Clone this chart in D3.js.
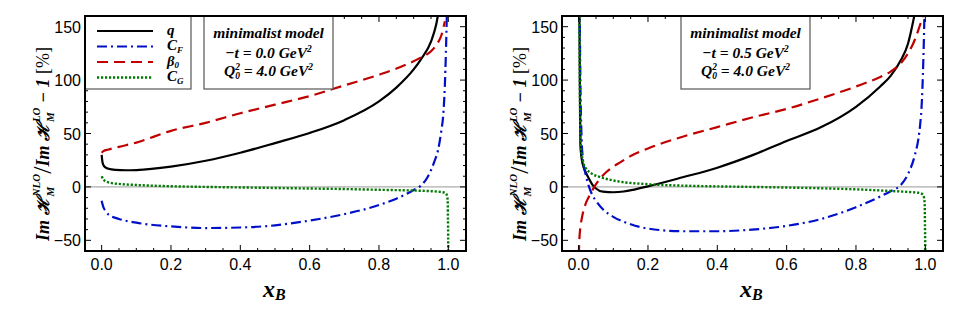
<!DOCTYPE html>
<meta charset="utf-8">
<script src="https://d3js.org/d3.v7.min.js"></script>
<style>
body { margin: 0; background: white; }
text { white-space: pre; }
</style>
<svg id="chart" width="954" height="322"></svg>
<script>

// ---- data: [x_B, value in %] ----
var leftQ = [[0,30],[0.002,24],[0.005,20.5],[0.01,18.5],[0.02,17],[0.04,16],[0.07,15.6],[0.1,15.8],[0.2,19],
  [0.3,24.5],[0.4,32],[0.5,41],[0.6,50.5],[0.7,62.5],[0.8,80],[0.85,93],[0.9,110],[0.92,119],[0.95,136],
  [0.965,152],[0.975,170]];
var leftB0 = [[0,32],[0.005,33.5],[0.02,35],[0.05,37.5],[0.1,41.5],[0.2,52.5],[0.3,60],[0.4,69],[0.5,77],[0.6,85],
  [0.7,95],[0.8,105],[0.86,112],[0.92,121],[0.95,127],[0.97,135],[0.98,142],[0.99,155]];
var leftCF = [[0,-13],[0.005,-19],[0.01,-22],[0.02,-26],[0.05,-30],[0.1,-33.5],[0.2,-37],[0.3,-38.5],[0.4,-38],
  [0.5,-36],[0.6,-31.5],[0.7,-25.5],[0.8,-17],[0.85,-11],[0.9,-3],[0.92,1],[0.94,9],[0.96,24],[0.97,34],
  [0.98,53],[0.985,66],[0.99,95],[0.993,125],[0.996,165]];
var leftCG = [[0,10],[0.005,7],[0.01,5.5],[0.03,3.5],[0.05,2.8],[0.1,1.8],[0.2,0.6],[0.3,0],[0.4,-0.5],[0.5,-1],
  [0.6,-1.5],[0.7,-2],[0.8,-2.7],[0.9,-3.4],[0.95,-4],[0.98,-4.8],[0.99,-5.5],[0.995,-7],[0.998,-12],[0.999,-30],[1.0,-65]];

var rightQ = [[0.002,175],[0.003,120],[0.005,40],[0.008,28],[0.012,21],[0.02,14],[0.027,9.4],[0.04,2],[0.05,-1.5],
  [0.07,-4.5],[0.1,-5],[0.13,-4.3],[0.16,-2.5],[0.2,0.5],[0.3,9],[0.4,18],[0.5,29.5],[0.6,43],[0.7,56],[0.8,75],
  [0.87,94],[0.9,104],[0.93,119],[0.95,134],[0.965,155],[0.975,172]];
var rightB0 = [[0.0005,-65],[0.002,-50],[0.005,-38],[0.01,-28],[0.02,-16],[0.03,-9],[0.045,0],[0.06,7],[0.08,14],
  [0.1,19],[0.12,23],[0.15,29],[0.2,36],[0.3,47],[0.4,56],[0.5,65],[0.6,73],[0.7,83],[0.8,94],[0.87,103],[0.9,108],
  [0.93,116],[0.95,125],[0.97,138],[0.98,147],[0.995,162]];
var rightCF = [[0.003,170],[0.005,100],[0.008,50],[0.012,27],[0.02,12],[0.03,0],[0.04,-8],[0.05,-13],[0.07,-21],
  [0.1,-28],[0.15,-35],[0.2,-39],[0.3,-41.5],[0.4,-41.5],[0.5,-40],[0.6,-36.5],[0.7,-30],[0.8,-19],[0.87,-9],
  [0.9,-4],[0.93,2],[0.95,12],[0.97,30],[0.98,45],[0.985,58],[0.99,80],[0.993,105],[0.996,140],[0.998,170]];
var rightCG = [[0.002,175],[0.003,120],[0.004,70],[0.006,40],[0.01,28],[0.015,21],[0.022,17],[0.04,12],[0.06,9.4],
  [0.1,6],[0.2,2.5],[0.3,1.2],[0.4,0.5],[0.5,0],[0.6,-0.6],[0.7,-1.3],[0.8,-2.3],[0.9,-3.8],[0.95,-4.7],
  [0.98,-5.5],[0.99,-6.5],[0.995,-8.5],[0.998,-15],[0.999,-35],[1.0,-65]];

var xTicks = [0, 0.2, 0.4, 0.6, 0.8, 1.0];
var yTicks = [-50, 0, 50, 100, 150];
var tValues = ["0.0", "0.5"];

var serif = "'Liberation Serif', 'DejaVu Serif', serif";
var sans = "'Liberation Sans', Arial, sans-serif";

var svg = d3.select("#chart");

// lay pieces of text next to each other (for sub/superscripts)
function richText(g, pieces) {
  var cx = 0;
  pieces.forEach(function(p) {
    var parts = p.stack || [p];
    var w = 0;
    parts.forEach(function(s) {
      var t = g.append("text").attr("x", cx + (s.dx || 0)).attr("y", s.dy || 0)
        .style("font-family", s.family || serif).style("font-size", s.size + "px")
        .style("font-weight", s.weight || "bold").style("font-style", s.style || "italic")
        .text(s.t);
      w = Math.max(w, t.node().getComputedTextLength() + (s.dx || 0));
    });
    cx += w + (p.gap || 0);
  });
  return cx;
}

function centered(parent, x, y, pieces) {
  var g = parent.append("g");
  var w = richText(g, pieces);
  g.attr("transform", "translate(" + (x - w / 2) + "," + y + ")");
  return g;
}

function drawPanel(ox, series, tval, showLegend) {
  var left = ox, right = ox + 381, top = 16, bottom = 251;
  var x = d3.scaleLinear().domain([-0.048, 1.051]).range([left, right]);
  var y = d3.scaleLinear().domain([-60, 160]).range([bottom, top]);

  var clipId = "clip" + ox;
  svg.append("clipPath").attr("id", clipId).append("rect")
    .attr("x", left).attr("y", top).attr("width", right - left).attr("height", bottom - top);

  // zero line
  svg.append("line").attr("x1", left).attr("x2", right).attr("y1", y(0)).attr("y2", y(0))
    .attr("stroke", "#999").attr("stroke-width", 1);

  var line = d3.line().x(function(d) { return x(d[0]); }).y(function(d) { return y(d[1]); })
    .curve(d3.curveMonotoneX);

  var cg = svg.append("g").attr("clip-path", "url(#" + clipId + ")");
  series.forEach(function(s) {
    cg.append("path").datum(s.data).attr("d", line).attr("fill", "none")
      .attr("stroke", s.color).attr("stroke-width", s.width).attr("stroke-dasharray", s.dash);
  });

  // frame ticks on all sides
  var tk = svg.append("g").attr("stroke", "black").attr("stroke-width", 1);
  d3.range(0, 1.0001, 0.05).forEach(function(v, i) {
    var len = (i % 4 === 0) ? 6 : 3;
    tk.append("line").attr("x1", x(v)).attr("x2", x(v)).attr("y1", bottom).attr("y2", bottom - len);
    tk.append("line").attr("x1", x(v)).attr("x2", x(v)).attr("y1", top).attr("y2", top + len);
  });
  d3.range(-60, 161, 10).forEach(function(v) {
    var len = (v % 50 === 0) ? 6 : 3;
    tk.append("line").attr("y1", y(v)).attr("y2", y(v)).attr("x1", left).attr("x2", left + len);
    tk.append("line").attr("y1", y(v)).attr("y2", y(v)).attr("x1", right).attr("x2", right - len);
  });

  // legend
  if (showLegend) {
    var lg = svg.append("g");
    lg.append("rect").attr("x", left).attr("y", top).attr("width", 106).attr("height", 73)
      .attr("fill", "white").attr("stroke", "#555").attr("stroke-width", 1.2);
    var labels = [
      [{t: "q", size: 15}],
      [{t: "C", size: 15}, {t: "F", size: 9, dy: 2.5}],
      [{t: "β", size: 14.5}, {t: "0", size: 9, dy: 2}],
      [{t: "C", size: 15}, {t: "G", size: 9, dy: 2.5}]
    ];
    series.forEach(function(s, i) {
      var ly = 31 + i * 15.5;
      lg.append("line").attr("x1", left + 12).attr("x2", left + 68).attr("y1", ly).attr("y2", ly)
        .attr("stroke", s.color).attr("stroke-width", s.width).attr("stroke-dasharray", s.dash);
      var g = lg.append("g").attr("transform", "translate(" + (left + 82) + "," + (ly + 3.5) + ")");
      richText(g, labels[i]);
    });
  }

  // text box
  var bx = ox + 119, bw = 129;
  svg.append("rect").attr("x", bx).attr("y", top).attr("width", bw).attr("height", 73)
    .attr("fill", "white").attr("stroke", "#555").attr("stroke-width", 1.2);
  var mid = bx + bw / 2;
  centered(svg, mid, 38, [{t: "minimalist model", size: 15.5}]);
  centered(svg, mid, 58, [{t: "\u2212t = " + tval + " GeV", size: 15.5}, {t: "2", size: 9.5, dy: -6}]);
  centered(svg, mid, 76, [{t: "Q", size: 15.5},
    {stack: [{t: "2", size: 9.5, dy: -6}, {t: "0", size: 9.5, dy: 3}]},
    {t: " = 4.0 GeV", size: 15.5}, {t: "2", size: 9.5, dy: -6}]);

  // frame
  svg.append("rect").attr("x", left).attr("y", top).attr("width", right - left).attr("height", bottom - top)
    .attr("fill", "none").attr("stroke", "black").attr("stroke-width", 2);

  // tick labels
  xTicks.forEach(function(v) {
    svg.append("text").attr("x", x(v)).attr("y", 270).attr("text-anchor", "middle")
      .style("font-family", sans).style("font-size", "16px").text(v.toFixed(1));
  });
  yTicks.forEach(function(v) {
    svg.append("text").attr("x", left - 4).attr("y", y(v) + 6).attr("text-anchor", "end")
      .style("font-family", sans).style("font-size", "16px").text(v < 0 ? "\u2212" + Math.abs(v) : v);
  });

  // x label
  var xl = svg.append("g").attr("transform", "translate(" + (x(0.5) - 12) + ",297)");
  richText(xl, [{t: "x", size: 24}, {t: "B", size: 16, dy: 3}]);

  // y label
  var yg = svg.append("g").attr("transform", "translate(" + (ox - 36) + ",144) rotate(-90)");
  var inner = yg.append("g");
  var w = richText(inner, [
    {t: "Im ", size: 18},
    {t: "\u210B", size: 17, gap: 1},
    {stack: [{t: "NLO", size: 11, dy: -9}, {t: "M", size: 11, dy: 5}]},
    {t: "/", size: 26, weight: "normal", style: "normal", dy: 2},
    {t: "Im ", size: 18},
    {t: "\u210B", size: 17, gap: 1},
    {stack: [{t: "LO", size: 11, dy: -9}, {t: "M", size: 11, dy: 5}]},
    {t: " \u2212 1 ", size: 18},
    {t: "[%]", size: 18, weight: "normal", style: "normal"}
  ]);
  inner.attr("transform", "translate(" + (-w / 2) + ",0)");
}

function makeSeries(q, cf, b0, cg) {
  return [
    {data: q, color: "black", width: 2.2, dash: null},
    {data: cf, color: "#0010c8", width: 2.2, dash: "10,4,2,4"},
    {data: b0, color: "#c00000", width: 2.2, dash: "11,6"},
    {data: cg, color: "#007a00", width: 2.4, dash: "2.2,1.8"}
  ];
}

drawPanel(85, makeSeries(leftQ, leftCF, leftB0, leftCG), tValues[0], true);
drawPanel(562, makeSeries(rightQ, rightCF, rightB0, rightCG), tValues[1], false);

</script>
